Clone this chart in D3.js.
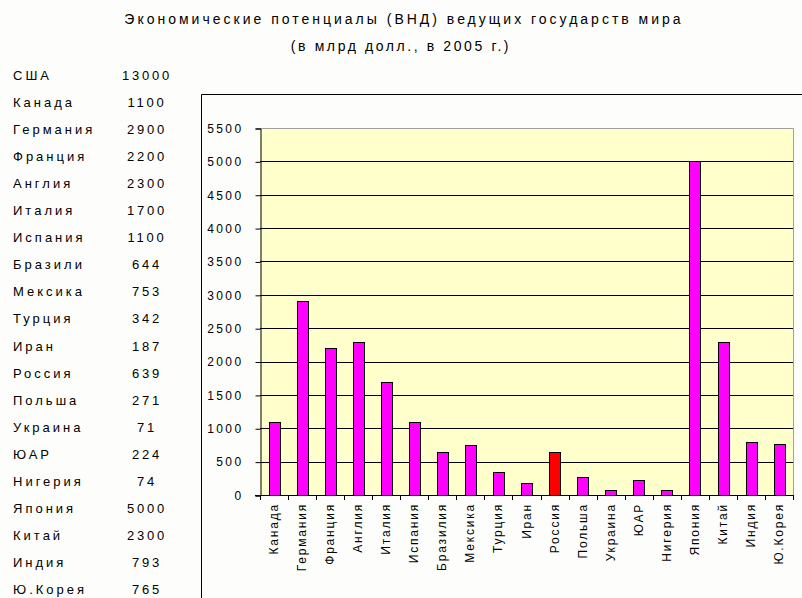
<!DOCTYPE html>
<html lang="ru">
<head>
<meta charset="UTF-8">
<title>ВНД ведущих государств мира</title>
<script src="https://d3js.org/d3.v7.min.js"></script>
<style>
  body { margin: 0; background: #fdfefb; }
  svg { display: block; font-family: "Liberation Sans", Arial, sans-serif; }
</style>
</head>
<body>
<svg width="802" height="598"></svg>
<script>
// table on the left (includes USA)
var tableNames = ["США","Канада","Германия","Франция","Англия","Италия","Испания","Бразили","Мексика","Турция",
                  "Иран","Россия","Польша","Украина","ЮАР","Нигерия","Япония","Китай","Индия","Ю.Корея"];
var tableValues = [13000,1100,2900,2200,2300,1700,1100,644,753,342,187,639,271,71,224,74,5000,2300,793,765];

// chart categories (without USA)
var countries = ["Канада","Германия","Франция","Англия","Италия","Испания","Бразилия","Мексика","Турция","Иран",
                 "Россия","Польша","Украина","ЮАР","Нигерия","Япония","Китай","Индия","Ю.Корея"];
var gnp = [1100,2900,2200,2300,1700,1100,644,753,342,187,639,271,71,224,74,5000,2300,793,765];
var yTicks = [0,500,1000,1500,2000,2500,3000,3500,4000,4500,5000,5500];
var highlight = "Россия";

var svg = d3.select("svg");

// title
svg.append("text").attr("x", 404).attr("y", 24).attr("text-anchor", "middle")
  .style("font-size", "14px").style("letter-spacing", "3px")
  .text("Экономические потенциалы (ВНД) ведущих государств мира");
svg.append("text").attr("x", 401).attr("y", 51).attr("text-anchor", "middle")
  .style("font-size", "14px").style("letter-spacing", "2.6px")
  .text("(в млрд долл., в 2005 г.)");

// left table
var rowY = d3.scaleLinear().domain([0, tableNames.length - 1]).range([80, 594]);
var rows = svg.append("g").selectAll("g").data(tableNames).enter().append("g")
  .attr("transform", function(d, i) { return "translate(0," + rowY(i) + ")"; });
rows.append("text").attr("x", 13).style("font-size", "13px").style("letter-spacing", "3px")
  .text(function(d) { return d; });
rows.append("text").attr("x", 147).attr("text-anchor", "middle")
  .style("font-size", "13px").style("letter-spacing", "2.8px")
  .text(function(d, i) { return tableValues[i]; });

// chart frame (runs off the page)
svg.append("path").attr("d", "M201.5,598V94.5H802").attr("fill", "none").attr("stroke", "#000");

var pLeft = 260, pRight = 793, pTop = 128, pBottom = 495;

var x = d3.scaleBand().domain(countries).range([pLeft, pRight]).paddingInner(0.62).paddingOuter(0.31);
var y = d3.scaleLinear().domain([0, 5500]).range([pBottom, pTop]);

svg.append("rect").attr("x", pLeft).attr("y", pTop).attr("width", pRight - pLeft).attr("height", pBottom - pTop)
  .attr("fill", "#ffffcc");
svg.append("path").attr("d", "M" + pLeft + "," + (pTop + 0.5) + "H" + (pRight + 0.5) + "V" + pBottom)
  .attr("fill", "none").attr("stroke", "#a0a0a0");

// grid lines
svg.append("g").selectAll("line").data(yTicks.filter(function(t) { return t > 0 && t < 5500; }))
  .enter().append("line")
  .attr("x1", pLeft).attr("x2", pRight)
  .attr("y1", function(d) { return Math.round(y(d)) + 0.5; })
  .attr("y2", function(d) { return Math.round(y(d)) + 0.5; })
  .attr("stroke", "#000");

// bars
svg.append("g").selectAll("rect").data(countries).enter().append("rect")
  .attr("x", function(d) { return Math.round(x(d)) + 0.5; })
  .attr("y", function(d, i) { return Math.round(y(gnp[i])) + 0.5; })
  .attr("width", Math.round(x.bandwidth()))
  .attr("height", function(d, i) { return Math.round(pBottom - y(gnp[i])); })
  .attr("fill", function(d) { return d == highlight ? "#ff0000" : "#ff00ff"; })
  .attr("stroke", "#000");

// y axis
var yAxis = svg.append("g").attr("transform", "translate(" + (pLeft + 0.5) + ",0.5)")
  .call(d3.axisLeft(y).tickValues(yTicks).tickSize(5).tickPadding(12).tickFormat(d3.format("d")));
yAxis.select(".domain").attr("stroke", "#000");
yAxis.selectAll("text").style("font-size", "12px").style("letter-spacing", "2.4px")
  .style("font-family", "Liberation Sans, Arial, sans-serif").attr("fill", "#000");

// x axis: ticks between categories
var step = x.step();
var bounds = d3.range(countries.length + 1).map(function(i) { return pLeft + i * step; });
var xg = svg.append("g");
xg.append("line").attr("x1", pLeft - 5).attr("x2", pRight).attr("y1", pBottom + 0.5).attr("y2", pBottom + 0.5)
  .attr("stroke", "#000");
xg.selectAll("line.tk").data(bounds).enter().append("line").attr("class", "tk")
  .attr("x1", function(d) { return Math.round(d) + 0.5; }).attr("x2", function(d) { return Math.round(d) + 0.5; })
  .attr("y1", pBottom).attr("y2", pBottom + 5).attr("stroke", "#000");
xg.selectAll("text").data(countries).enter().append("text")
  .attr("transform", function(d) { return "translate(" + (x(d) + x.bandwidth() / 2 + 4) + "," + (pBottom + 8) + ") rotate(-90)"; })
  .attr("text-anchor", "end")
  .style("font-size", "12px").style("letter-spacing", "1.8px")
  .text(function(d) { return d; });
</script>
</body>
</html>
